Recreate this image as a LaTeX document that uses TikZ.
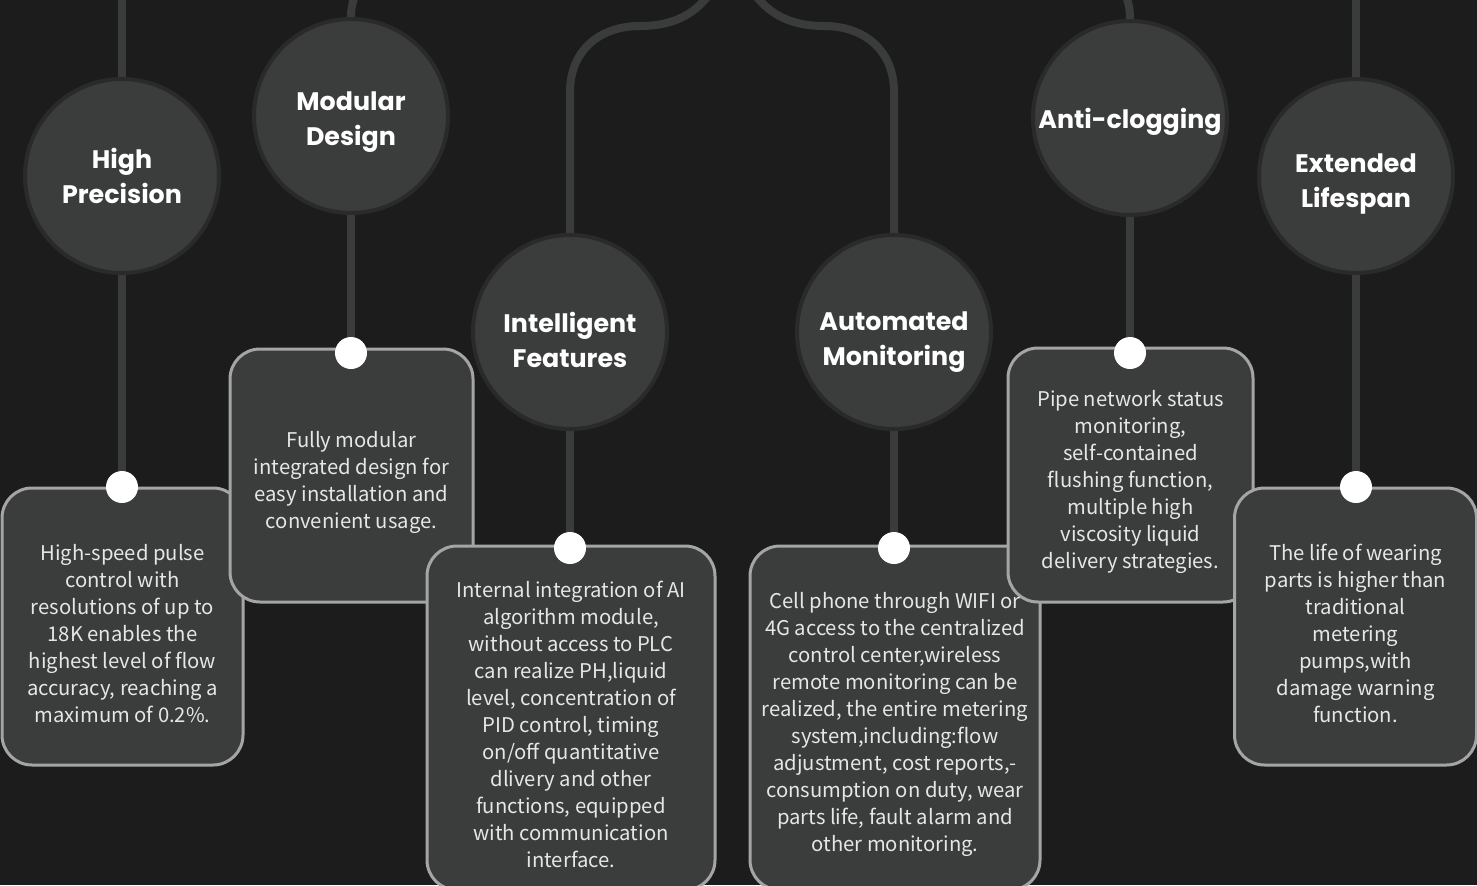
\documentclass[tikz,border=0pt]{standalone}
\usepackage{fontspec}
\setmainfont{Noto Sans CJK SC}
\newfontfamily\headfont{Poppins}
\usepackage{tikz}
\usetikzlibrary{positioning}
\usetikzlibrary{backgrounds}

\definecolor{bgcol}{HTML}{1C1C1C}
\definecolor{pipecol}{HTML}{3A3B3B}
\definecolor{discfill}{HTML}{3B3C3C}
\definecolor{discedge}{HTML}{2A2A2A}
\definecolor{cardedge}{HTML}{A5A5A5}
\definecolor{cardtext}{HTML}{E6E6E6}

\begin{document}
\begin{tikzpicture}[x=0.75pt, y=-0.75pt,
    pipe/.style={pipecol, line width=6pt},
    disc/.style={circle, fill=discfill, draw=discedge, line width=3pt,
        minimum size=145.5pt, inner sep=0pt},
    head/.style={align=center, text=white, inner sep=0pt, yshift=-6pt,
        font=\headfont\bfseries\fontsize{19pt}{26.25pt}\selectfont},
    card/.style={rectangle, rounded corners=22.5pt, fill=discfill,
        draw=cardedge, line width=2.25pt, inner sep=0pt},
    note/.style={align=center, text=cardtext, inner sep=0pt, yshift=-5pt,
        font=\fontsize{15.2pt}{20.25pt}\selectfont},
    pin/.style={circle, fill=white, minimum size=24pt, inner sep=0pt}]

        \useasboundingbox (0,0) rectangle (1477,885);

        % Feature discs
        \node[disc] (C1) at (122,176) {};
        \node[disc] (C2) at (351,116) {};
        \node[disc] (C3) at (570,332) {};
        \node[disc] (C4) at (894,332) {};
        \node[disc] (C5) at (1130,118) {};
        \node[disc] (C6) at (1356,176) {};

        \node[head, yshift=6pt] (H1) at (C1) {High\\Precision};
        \node[head, yshift=1.5pt] (H2) at (C2) {Modular\\Design};
        \node[head] (H3) at (C3) {Intelligent\\Features};
        \node[head, yshift=-1.5pt] (H4) at (C4) {Automated\\Monitoring};
        \node[head, yshift=3pt] (H5) at (C5) {Anti-clogging};
        \node[head] (H6) at (C6) {Extended\\Lifespan};

        % Description cards, later ones lie on top
        \node[card, minimum width=241*0.75pt, minimum height=277*0.75pt]
            (B1) at (122.5,626.5) {};
        \node[card, minimum width=243*0.75pt, minimum height=253*0.75pt]
            (B2) at (351.5,475.5) {};
        \node[card, minimum width=288*0.75pt, minimum height=344*0.75pt]
            (B3) at (571,718) {};
        \node[card, minimum width=290*0.75pt, minimum height=344*0.75pt]
            (B4) at (895,718) {};
        \node[card, minimum width=245*0.75pt, minimum height=254*0.75pt]
            (B5) at (1130.5,475) {};
        \node[card, minimum width=242*0.75pt, minimum height=277*0.75pt]
            (B6) at (1355.5,626.5) {};

        % Card texts
        \node[note] (N1) at (B1)
            {High-speed pulse\\control with\\resolutions of up to\\18K enables the\\highest level of flow\\accuracy, reaching a\\maximum of 0.2\%.};
        \node[note] (N2) at (B2)
            {Fully modular\\integrated design for\\easy installation and\\convenient usage.};
        \node[note] (N3) at (B3)
            {Internal integration of AI\\algorithm module,\\without access to PLC\\can realize PH,liquid\\level, concentration of\\PID control, timing\\on/off quantitative\\dlivery and other\\functions, equipped\\with communication\\interface.};
        \node[note] (N4) at (B4)
            {Cell phone through WIFI or\\4G access to the centralized\\control center,wireless\\remote monitoring can be\\realized, the entire metering\\system,including:flow\\adjustment, cost reports,-\\consumption on duty, wear\\parts life, fault alarm and\\other monitoring.};
        \node[note] (N5) at (B5)
            {Pipe network status\\monitoring,\\self-contained\\flushing function,\\multiple high\\viscosity liquid\\delivery strategies.};
        \node[note] (N6) at (B6)
            {The life of wearing\\parts is higher than\\traditional\\metering\\pumps,with\\damage warning\\function.};

        % Pins on the top edge of each card
        \node[pin] (D1) at (122,487) {};
        \node[pin] (D2) at (351,353) {};
        \node[pin] (D3) at (570,548) {};
        \node[pin] (D4) at (894,548) {};
        \node[pin] (D5) at (1130,353) {};
        \node[pin] (D6) at (1356,487) {};

        % Free ends of the pipes beyond the top edge
        \coordinate (T1) at (122,-10);
        \coordinate (T2) at (364,-16);
        \coordinate (T3) at (712,-10);
        \coordinate (T4) at (752,-10);
        \coordinate (T5) at (1116,-16);
        \coordinate (T6) at (1356,-10);

        \begin{pgfonlayer}{background}
            \fill[bgcol] (0,0) rectangle (1477,885);

            \foreach\x in {1,...,6}
            \draw[pipe] (C\x) -- (D\x);

            \draw[pipe] (C1) -- (T1);
            \draw[pipe] (C6) -- (T6);
            \draw[pipe] (C2.north) .. controls (351,4) and (354,-6) .. (T2);
            \draw[pipe] (C5.north) .. controls (1130,4) and (1127,-6) .. (T5);

            % the two arms meeting above the middle
            \draw[pipe] (C3.north) -- (570,92)
                .. controls (570,50) and (600,26) .. (640,26)
                .. controls (676,26) and (698,12) .. (T3);
            \draw[pipe] (C4.north) -- (894,92)
                .. controls (894,50) and (864,26) .. (824,26)
                .. controls (788,26) and (766,12) .. (T4);
        \end{pgfonlayer}

\end{tikzpicture}
\end{document}
